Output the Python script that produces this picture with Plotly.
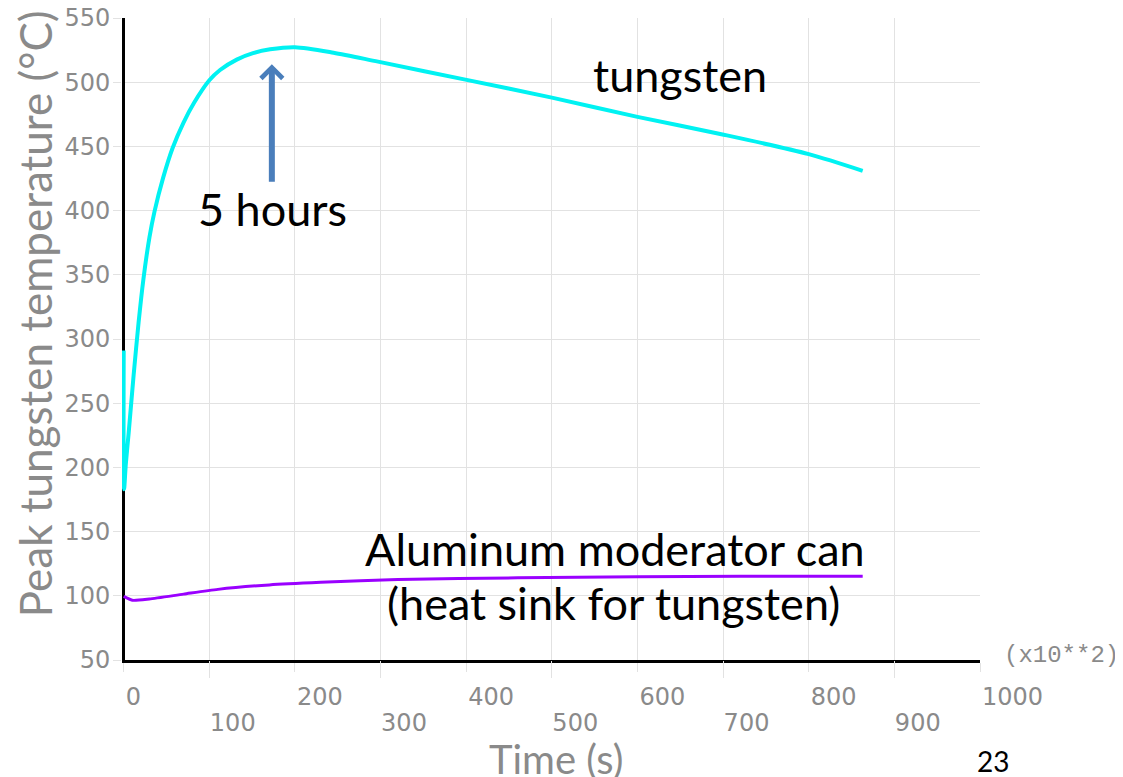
import plotly.graph_objects as go

# ---- data ----
time_tungsten = [0, 0.4, 2.5, 5.8, 11.6, 17.4, 23, 30, 36, 46, 57, 70, 82, 100, 112.5,
                 132, 151, 171, 200, 245, 297, 399, 500, 600, 698, 800, 863]
temp_tungsten = [291, 183, 203, 227, 272, 313, 346.6, 379, 399.4, 425.5, 448.6, 468.8, 483.8, 501.5, 509.5,
                 517.6, 522.6, 525.6, 527.3, 523, 516, 502, 488, 473, 459.5, 444, 431]

time_al = [0, 10, 30, 70, 110, 170, 230, 320, 460, 600, 720, 863]
temp_al = [99.5, 96.5, 97.5, 101.3, 105, 108.5, 110.5, 112.7, 114, 114.8, 115.2, 115.3]

x_even_ticks = [0, 200, 400, 600, 800, 1000]
x_odd_ticks = [100, 300, 500, 700, 900]
y_ticks = [50, 100, 150, 200, 250, 300, 350, 400, 450, 500, 550]

GRID = "#e2e2e2"
TICKC = "#8a8a8a"
TEXT_FONT = "Lato"
TICK_FONT = "DejaVu Sans ExtraLight, DejaVu Sans"

# page offset of the figure inside the browser (body margin)
OFF = 8
# plot area in figure pixels
L, R, T, B = 113.8, 972, 10, 652
W, H = 1123, 777


def px(xs):
    return (xs - OFF - L) / (R - L)


def py(ys):
    return (B - (ys - OFF)) / (B - T)


fig = go.Figure()
fig.add_trace(go.Scatter(
    x=time_al, y=temp_al, mode="lines", xaxis="x2", yaxis="y",
    line=dict(color="#9a00ff", width=3, shape="spline", smoothing=0.6),
    name="Aluminum moderator can", showlegend=False))
fig.add_trace(go.Scatter(
    x=time_tungsten, y=temp_tungsten, mode="lines", xaxis="x", yaxis="y",
    line=dict(color="#00f2f2", width=4, shape="spline", smoothing=0.8),
    name="tungsten", showlegend=False))

fig.update_layout(
    width=W, height=H,
    margin=dict(l=L, r=W - R, t=T, b=H - B, pad=0, autoexpand=False),
    paper_bgcolor="white", plot_bgcolor="white",
    showlegend=False,
    xaxis=dict(
        range=[-2, 1000], tickmode="array", tickvals=x_even_ticks,
        ticktext=[str(v) for v in x_even_ticks], automargin=False,
        showgrid=True, gridcolor=GRID, gridwidth=1,
        zeroline=True, zerolinecolor="black", zerolinewidth=3,
        showline=True, linecolor="black", linewidth=3,
        ticks="outside", ticklen=9, tickcolor=GRID, tickwidth=1,
        ticklabelposition="outside right", ticklabelstandoff=13,
        ticklabeloverflow="allow",
        tickfont=dict(family=TICK_FONT, size=24, color=TICKC),
        layer="below traces",
    ),
    xaxis2=dict(
        range=[-2, 1000], overlaying="x", anchor="y", side="bottom",
        tickmode="array", tickvals=x_odd_ticks, automargin=False,
        ticktext=[str(v) for v in x_odd_ticks],
        showgrid=True, gridcolor=GRID, gridwidth=1, zeroline=False,
        showline=False,
        ticks="outside", ticklen=17, tickcolor=GRID, tickwidth=1,
        ticklabelposition="outside right", ticklabelstandoff=41,
        ticklabeloverflow="allow",
        tickfont=dict(family=TICK_FONT, size=24, color=TICKC),
        layer="below traces",
    ),
    yaxis=dict(
        range=[50, 550], tickmode="array", tickvals=y_ticks, automargin=False,
        ticktext=[str(v) for v in y_ticks],
        showgrid=True, gridcolor=GRID, gridwidth=1, zeroline=False,
        showline=False,
        ticks="outside", ticklen=8, tickcolor=GRID, tickwidth=1,
        ticklabelstandoff=-2, ticklabeloverflow="allow",
        tickfont=dict(family=TICK_FONT, size=24, color=TICKC),
        layer="below traces",
    ),
)


def label(text, xs, ys, size, color="black", family=TEXT_FONT, angle=0):
    return dict(text=text, xref="paper", yref="paper", x=px(xs), y=py(ys),
                xanchor="center", yanchor="middle", textangle=angle,
                showarrow=False, font=dict(family=family, size=size, color=color))


annotations = [
    label("Peak tungsten temperature (°C)", 35, 314, 44, "#8a8a8a", angle=-90),
    label("Time (s)", 556, 759, 40, "#8a8a8a"),
    label("(x10**2)", 1062, 655, 24, TICKC, family="Liberation Mono"),
    label("23", 993, 761, 28),
    label("5 hours", 272, 209, 45),
    label("tungsten", 680, 75, 45),
    label("Aluminum moderator can", 615, 549, 45),
    label("(heat sink for tungsten)", 613, 603, 45),
    # arrow pointing at the peak
    dict(text="", xref="x", yref="y", x=173, y=514, axref="x", ayref="y",
         ax=173, ay=421.3, showarrow=True, arrowhead=4, arrowsize=0.7,
         arrowwidth=6, arrowcolor="#4a7ebb", standoff=0, startstandoff=0),
]
fig.update_layout(annotations=annotations)

fig.write_html("out.html")
